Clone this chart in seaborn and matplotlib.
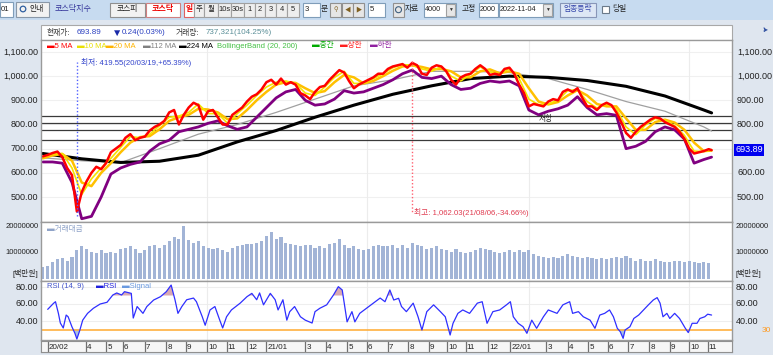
import numpy as np
import matplotlib
matplotlib.use('Agg')
import matplotlib.pyplot as plt
import seaborn as sns
from matplotlib.patches import Rectangle

# ---------------- DATA (trading-day index, 0 = first day of Feb 2020) ----------------
close_day = np.r_[np.arange(-5, 681, 5), 683]
close = [668, 674, 682, 688, 665, 620, 590, 440, 520, 565, 600, 625, 615, 640, 685, 700, 715,
         745, 760, 735, 745, 750, 775, 790, 800, 815, 850, 860, 800, 840, 870, 890, 880, 820,
         855, 860, 830, 800, 800, 840, 855, 870, 895, 915, 925, 945, 975, 985, 965, 990,
         965, 975, 965, 930, 920, 905, 935, 955, 960, 985, 1005, 1025, 1015, 980, 950, 965, 975,
         985, 995, 1010, 1010, 1030, 1040, 1045, 1050, 1035, 1055, 1045, 1010, 1005,
         1035, 1045, 1040, 1020, 985, 965, 995, 1005, 1010, 1030, 1045, 1030,
         1005, 1010, 1005, 1030, 1035, 1010, 965, 930, 875, 885, 880, 875, 895, 905, 900, 935,
         945, 935, 950, 910, 875, 875, 860, 880, 890, 880, 850, 810, 765, 745, 770, 790, 805,
         820, 830, 825, 810, 800, 790, 770, 740, 700, 680, 685, 690, 698, 694]

mid_day = np.r_[np.arange(-5, 676, 10), 683]
ma10 = [665, 678, 680, 620, 510, 575, 620, 660, 705, 750, 745,
        760, 795, 830, 835, 850, 885, 845, 845, 805, 845,
        880, 920, 955, 975, 980, 970, 930, 920, 955, 995,
        1020, 970, 970, 990, 1010, 1035, 1048, 1045, 1030, 1020,
        1040, 1000, 980, 1008, 1038, 1018, 1008, 1032, 990, 905,
        882, 885, 902, 940, 945, 895, 868, 885, 865, 790,
        758, 798, 825, 818, 795, 755, 690, 688, 696]
ma20 = [660, 672, 678, 650, 560, 545, 600, 640, 685, 725, 748,
        752, 780, 815, 830, 840, 865, 862, 850, 822, 825,
        860, 900, 935, 965, 975, 972, 950, 930, 938, 975,
        1005, 995, 970, 980, 1000, 1022, 1040, 1045, 1038, 1028,
        1030, 1020, 995, 995, 1020, 1028, 1012, 1020, 1010, 950,
        895, 883, 893, 920, 942, 920, 885, 875, 875, 825,
        778, 778, 810, 820, 808, 778, 725, 690, 692]
lower = [645, 645, 640, 560, 410, 420, 500, 595, 620, 635, 645,
         690, 720, 735, 770, 780, 790, 805, 815, 795, 780,
         790, 830, 870, 910, 935, 945, 900, 880, 885, 905,
         940, 930, 935, 950, 965, 985, 1010, 1025, 995, 990,
         1000, 965, 945, 950, 970, 980, 975, 980, 960, 860,
         840, 855, 865, 880, 915, 870, 840, 845, 838, 700,
         710, 730, 770, 790, 778, 740, 640, 655, 665]

slow_day = np.r_[np.arange(-5, 676, 40), 683]
ma112 = [662, 650, 642, 700, 760, 800, 850, 905, 960, 985, 1020, 1020, 1015, 990, 945, 895, 855, 790, 773]
ma224 = [680, 658, 643, 648, 673, 728, 775, 830, 880, 925, 960, 990, 1000, 995, 982, 958, 918, 860, 848]

resist_levels = [836, 807, 777, 736]
low_day, low_val = 30, 419.55
high_day, high_val = 375, 1062.03

vol_day = np.arange(-5, 681, 5)
vol_m = [4.5, 5.0, 6.5, 7.5, 8.0, 7.0, 8.5, 11.0, 12.5, 11.5, 10.5, 10.0, 11.0, 10.0, 10.5, 10.0, 11.5,
         12.0, 12.5, 11.5, 10.0, 11.0, 12.5, 13.0, 12.0, 13.0, 14.5, 16.0, 15.5, 20.5, 15.0, 14.0, 14.5, 12.5,
         12.0, 11.5, 12.0, 11.0, 10.5, 12.0, 12.5, 13.0, 13.5, 13.5, 14.0, 14.5, 16.5, 18.0, 15.5, 16.0,
         14.0, 13.5, 13.0, 12.5, 13.0, 13.0, 12.0, 12.5, 12.0, 13.5, 14.0, 15.5, 13.0, 12.0, 12.5, 11.5, 11.0,
         11.5, 12.5, 13.0, 12.5, 12.5, 13.0, 12.0, 13.0, 12.0, 14.0, 13.0, 12.5, 11.5, 12.0, 12.5, 11.5, 11.0,
         10.5, 11.5, 10.5, 10.0, 10.5, 11.0, 12.0, 11.5, 11.0, 10.5, 10.0, 10.5, 11.0, 10.5, 11.0, 10.5,
         11.0, 9.5, 9.0, 8.5, 8.0, 8.5, 8.0, 9.0, 9.5, 9.0, 8.5, 8.0, 8.5, 8.0, 7.5, 8.0, 7.5,
         8.0, 8.5, 8.0, 9.0, 8.0, 7.0, 7.5, 7.0, 7.0, 7.5, 7.0, 6.5, 6.5, 7.0, 7.0, 6.5, 7.0, 6.5, 6.0, 6.5, 6.0]

rsi_day = [0, 6, 8, 11, 13, 16, 19, 21, 25, 28, 30, 33, 36, 41, 47, 54, 61, 67, 71, 76, 79, 86, 88, 92, 98,
           102, 109, 116, 122, 127, 131, 134, 138, 143, 150, 153, 159, 162, 167, 172, 177, 180, 184, 189,
           198, 205, 210, 215, 218, 222, 229, 234, 237, 242, 246, 249, 254, 260, 265, 272, 275, 280, 287,
           294, 299, 303, 308, 313, 316, 321, 328, 335, 342, 347, 352, 356, 361, 364, 369, 376, 381, 385,
           390, 397, 404, 409, 414, 417, 422, 427, 434, 442, 447, 452, 458, 465, 472, 476, 479, 484, 489,
           493, 498, 503, 510, 515, 524, 530, 537, 540, 546, 551, 558, 563, 568, 573, 578, 582, 586, 589,
           592, 594, 599, 603, 608, 613, 618, 623, 627, 630, 633, 637, 640, 645, 650, 656, 659, 663, 668,
           671, 676, 679, 683]
rsi_val = [53.7, 60.8, 62.7, 49, 37.6, 31.8, 47, 45, 33, 25.5, 18.8, 29, 41, 49, 55, 60, 62, 70.6, 73, 70.6,
           74.5, 72.5, 43.5, 57, 49, 57, 64.7, 68.6, 74.5, 82.3, 64.7, 49, 57, 65, 67, 62.7, 45, 35, 53, 57,
           41, 31.8, 45, 53, 61, 68.6, 72.5, 65, 73, 59, 72.5, 65, 53, 65, 41, 51, 57, 45, 41, 37.6,
           51, 55, 59, 70.6, 80.4, 76.5, 39, 51, 39, 49, 55, 61, 67, 62.7, 76.5, 64.7, 66.7, 57, 51, 61,
           45, 29.4, 51, 59, 51, 45, 23.5, 37.3, 49, 53, 49, 61, 62.7, 37.3, 51, 53, 59, 62.7, 45, 37.3,
           33.3, 25.5, 41, 31.4, 45, 53, 49, 59, 62.7, 49, 51, 45, 41, 31.4, 47, 49, 53, 45, 31.4, 27.5,
           19.6, 29.4, 33.3, 43, 47, 53, 59, 64.7, 67.5, 61, 45, 49, 43, 49, 43, 31.4, 26.4, 37.3, 37.3, 43,
           45, 48, 47]

tick_day = [0, 39, 60, 77, 100, 122, 142, 164, 184, 205, 225, 265, 286, 308, 328, 350, 371, 392, 411,
            430, 453, 476, 513, 535, 556, 576, 597, 619, 640, 660, 679]
tick_lab = ['20/02', '4', '5', '6', '7', '8', '9', '10', '11', '12', '21/01', '3', '4', '5', '6', '7', '8',
            '9', '10', '11', '12', '22/01', '3', '4', '5', '6', '7', '8', '9', '10', '11']
vgrid_day = [164, 328, 495, 660]

price_labels = [1100, 1000, 900, 800, 700, 600, 500]
vol_labels = [20, 10]
rsi_labels = [80, 60, 40]

# ---------------- STYLE ----------------
sns.set_theme(style='white')
plt.rcParams['font.family'] = ['Liberation Sans', 'Noto Sans CJK KR', 'DejaVu Sans']
plt.rcParams['axes.unicode_minus'] = False

W, H = 773, 355
fig = plt.figure(figsize=(W / 100, H / 100), dpi=100)
fig.patch.set_facecolor('#dfe6ef')


def pax(x0, y0, x1, y1, z=1):
    return fig.add_axes([x0 / W, 1 - y1 / H, (x1 - x0) / W, (y1 - y0) / H], zorder=z)


bg = pax(0, 0, W, H, z=0)
bg.set_xlim(0, W); bg.set_ylim(H, 0); bg.axis('off')


def rect(a, x0, y0, x1, y1, fc, ec='none', lw=0.8):
    a.add_patch(Rectangle((x0, y0), x1 - x0, y1 - y0, facecolor=fc, edgecolor=ec, lw=lw))


def txt(a, x, y, s, size=5.6, color='#222222', ha='left', **kw):
    a.text(x, y, s, fontsize=size, color=color, ha=ha, va='center', **kw)


# toolbar
rect(bg, 0, 0, W, 19.5, '#c7dbf0')
rect(bg, 0, 2, 13, 17, 'white', '#7f9db9')
txt(bg, 1, 9.5, '01', 5.6)
rect(bg, 16, 2, 49, 17, '#f2f2f2', '#8a98a8')
bg.add_patch(plt.Circle((23, 9), 2.8, fill=False, ec='#3060a0', lw=0.9))
txt(bg, 29, 9.5, '안내', 5.6, '#222222')
txt(bg, 55, 9.5, '코스닥지수', 5.8, '#333399')
rect(bg, 110, 3, 145, 16.5, '#f2f2f2', '#909090')
txt(bg, 127.5, 9.5, '코스피', 5.6, '#222222', ha='center')
rect(bg, 146, 3, 180, 16.5, 'white', '#d08080')
txt(bg, 163, 9.5, '코스닥', 5.8, '#ee0000', ha='center', fontweight='bold')
rect(bg, 184, 3, 194, 16.5, 'white', '#e06060')
txt(bg, 189, 9.5, '일', 5.6, '#ee0000', ha='center', fontweight='bold')
for (a0, a1, s) in [(194, 204, '주'), (204, 218, '월'), (218, 231, '10s'), (231, 244, '30s'),
                    (244, 255, '1'), (255, 265, '2'), (265, 276, '3'), (276, 287, '4'), (287, 299, '5')]:
    rect(bg, a0, 3, a1, 16.5, '#eeeeee', '#a0a0a0')
    txt(bg, (a0 + a1) / 2, 9.5, s, 5.4, '#222222', ha='center')
rect(bg, 303, 3, 320, 16.5, 'white', '#7f9db9')
txt(bg, 305, 9.5, '3', 5.6)
txt(bg, 321, 9.5, '분', 5.6)
for a0, s in [(330, '⚲'), (342, '◀'), (353, '▶')]:
    rect(bg, a0, 3, a0 + 11, 16.5, '#e6e6e6', '#909090')
    txt(bg, a0 + 5.5, 9.5, s, 4.5, '#806020', ha='center')
rect(bg, 368, 3, 385, 16.5, 'white', '#7f9db9')
txt(bg, 370, 9.5, '5', 5.6)
rect(bg, 393, 3, 404, 16.5, '#e6e6e6', '#909090')
bg.add_patch(plt.Circle((398.5, 9.7), 3, fill=False, ec='#406080', lw=0.8))
txt(bg, 405, 9.5, '자료', 5.6)
rect(bg, 424, 3, 456, 16.5, 'white', '#7f9db9')
txt(bg, 425, 9.5, '4000', 5.2)
rect(bg, 446, 4, 455, 15.5, '#e6e6e6', '#a0a0a0')
txt(bg, 450.5, 9.7, '▼', 3.5, '#333333', ha='center')
txt(bg, 462, 9.5, '고정', 5.6)
rect(bg, 479, 3, 498, 16.5, 'white', '#7f9db9')
txt(bg, 480, 9.5, '2000', 5.2)
rect(bg, 499, 3, 553, 16.5, 'white', '#7f9db9')
txt(bg, 500, 9.5, '2022-11-04', 5.2)
rect(bg, 543, 4, 552, 15.5, '#e6e6e6', '#a0a0a0')
txt(bg, 547.5, 9.7, '▼', 3.5, '#333333', ha='center')
rect(bg, 560, 3, 596, 16.5, '#dde7f5', '#8896b8')
txt(bg, 578, 9.5, '업종등락', 5.6, '#3344aa', ha='center')
rect(bg, 602, 6, 609, 13, 'white', '#6a7a8a')
txt(bg, 612, 9.5, '당일', 5.6)

# info row
rect(bg, 41, 25, 732, 40, 'white', '#a8a8a8')
txt(bg, 47, 32.5, '현재가:', 5.6, '#333333')
txt(bg, 77, 32.5, '693.89', 5.8, '#2a3fc0')
txt(bg, 112, 32.5, '▼', 7.5, '#1a2aa8')
txt(bg, 122, 32.5, '0.24(0.03%)', 5.8, '#2a3fc0')
txt(bg, 176, 32.5, '거래량:', 5.6, '#333333')
txt(bg, 206, 32.5, '737,321(104.25%)', 5.8, '#5b8f98')
txt(bg, 762, 30.5, '⁞▸', 5.5, '#3050a0')

# date axis background
rect(bg, 41, 340.5, 732, 352, '#f5f5f5', '#909090')

XL = (-6.9, 704)

# ---------------- MAIN PRICE PANEL ----------------
ax = pax(41, 40, 732, 222)
ax.set_xlim(*XL); ax.set_ylim(396.6, 1149.6)
ax.set_facecolor('white')
for v in price_labels:
    ax.axhline(v, color='#f0f0f0', lw=0.8, zorder=0)
for d in vgrid_day:
    ax.axvline(d, color='#ececec', lw=0.8, zorder=0)
for v in resist_levels:
    ax.axhline(v, color='#3a3a3a', lw=0.9, zorder=1)
sns.lineplot(x=slow_day, y=ma112, ax=ax, color='#a0a0a0', lw=0.9)
sns.lineplot(x=slow_day, y=ma224, ax=ax, color='#000000', lw=2.2)
sns.lineplot(x=mid_day, y=lower, ax=ax, color='#800080', lw=2.0)
sns.lineplot(x=mid_day, y=ma20, ax=ax, color='#ffc000', lw=1.8)
sns.lineplot(x=mid_day, y=ma10, ax=ax, color='#f4e400', lw=1.2)
sns.lineplot(x=close_day, y=close, ax=ax, color='#ff0000', lw=1.8)
ax.plot([low_day, low_day], [low_val, 1060], ls=(0, (1, 1.5)), color='#5060ff', lw=1)
ax.plot([high_day, high_day], [high_val, 440], ls=(0, (1, 1.5)), color='#ff6070', lw=1)
ax.text(low_day + 4, 1057, '최저: 419.55(20/03/19,+65.39%)', fontsize=5.6, color='#3344cc', va='center')
ax.text(high_day + 2, 434, '최고: 1,062.03(21/08/06,-34.66%)', fontsize=5.6, color='#e03c50', va='center')
ax.text(505, 824, '저항', fontsize=5.6, color='#222222', va='center')
ax.set_xticks([]); ax.set_yticks([]); ax.set_xlabel(''); ax.set_ylabel('')
for s in ax.spines.values():
    s.set_color('#9a9a9a'); s.set_linewidth(1.0)

# ---------------- VOLUME PANEL ----------------
axv = pax(41, 222, 732, 281)
axv.set_xlim(*XL); axv.set_ylim(-0.77, 21.9)
for d in vgrid_day:
    axv.axvline(d, color='#ececec', lw=0.8, zorder=0)
axv.bar(vol_day, vol_m, width=3.2, color='#a2b4d6', linewidth=0, zorder=2)
axv.set_xticks([]); axv.set_yticks([])
for s in axv.spines.values():
    s.set_color('#9a9a9a'); s.set_linewidth(1.0)

# ---------------- RSI PANEL ----------------
axr = pax(41, 281, 732, 340)
axr.set_xlim(*XL); axr.set_ylim(17.65, 87.06)
for v in rsi_labels:
    axr.axhline(v, color='#eeeeee', lw=0.8, zorder=0)
for d in vgrid_day:
    axr.axvline(d, color='#ececec', lw=0.8, zorder=0)
rd = np.array(rsi_day, float); rv = np.array(rsi_val, float)
axr.fill_between(rd, rv, 70, where=rv > 70, interpolate=True, color='#d9aab2', lw=0, zorder=1)
axr.fill_between(rd, rv, 30, where=rv < 30, interpolate=True, color='#a9c1e2', lw=0, zorder=1)
axr.axhline(30, color='#ffb040', lw=1.2, zorder=2)
sns.lineplot(x=rd, y=rv, ax=axr, color='#2f2fff', lw=0.9, zorder=3)
axr.set_xticks([]); axr.set_yticks([]); axr.set_xlabel(''); axr.set_ylabel('')
for s in axr.spines.values():
    s.set_color('#9a9a9a'); s.set_linewidth(1.0)

# ---------------- DATE AXIS ----------------
axd = pax(41, 341, 732, 352)
axd.set_xlim(*XL); axd.set_ylim(0, 1)
axd.set_facecolor('#f6f6f6')
for d, lab in zip(tick_day, tick_lab):
    axd.axvline(d, color='#707070', lw=0.9)
    axd.text(d + 1.2, 0.45, lab, fontsize=5.8, color='#222222', va='center')
axd.set_xticks([]); axd.set_yticks([])
for s in axd.spines.values():
    s.set_color('#909090'); s.set_linewidth(0.8)

# ---------------- OVERLAY TEXT (legends, axis labels) ----------------
ov = pax(0, 0, W, H, z=10)
ov.set_xlim(0, W); ov.set_ylim(H, 0); ov.axis('off')

legend_items = [(47, '▬5 MA', '#ff0000'), (77, '▬10 MA', '#e8e000'), (106, '▬20 MA', '#ffb400'),
                (143, '▬112 MA', '#808080'), (179, '▬224 MA', '#000000'),
                (217, 'BollingerBand (20, 200)', '#44c044'), (312, '▬중간', '#00aa00'),
                (340, '▬상한', '#ff2020'), (370, '▬하한', '#9020a0')]
for x, s, c in legend_items:
    txt(ov, x, 46, s, 5.5, c)


def fmt_price(v):
    return f'{v:,.2f}'


ylab = lambda v: 52 + (1100 - v) * 0.2417
for v in price_labels:
    txt(ov, 38, ylab(v), fmt_price(v), 6.5, '#222222', ha='right')
    if v != 700:
        txt(ov, 737, ylab(v), fmt_price(v), 6.5, '#222222')
ov.text(735, 150, '693.89', fontsize=6.5, color='white', va='center', ha='left',
        bbox=dict(boxstyle='square,pad=0.15', fc='#0000f0', ec='none'))

for v in vol_labels:
    y = 279 - v * 2.6
    txt(ov, 39, y, f'{int(v * 1e6)}', 5.5, '#222222', ha='right')
    txt(ov, 735.5, y, f'{int(v * 1e6)}', 5.5, '#222222')
txt(ov, 38, 273, '[백만원]', 5.6, '#222222', ha='right')
txt(ov, 736, 273, '[백만원]', 5.6, '#222222')
txt(ov, 47, 229, '▬거래대금', 5.5, '#8fa3c8')

for v in rsi_labels:
    y = 287 + (80 - v) * 0.85
    txt(ov, 38, y, f'{v:.2f}', 6.5, '#222222', ha='right')
    txt(ov, 736, y, f'{v:.2f}', 6.5, '#222222')
txt(ov, 762, 331, '30', 6, '#ff9a20')
txt(ov, 47, 287, 'RSI (14, 9)', 5.5, '#4455cc')
txt(ov, 96, 287, '▬RSI', 5.5, '#2020dd')
txt(ov, 122, 287, '▬Signal', 5.5, '#6a9ae0')

fig.savefig('out.png', dpi=100, facecolor=fig.get_facecolor())
